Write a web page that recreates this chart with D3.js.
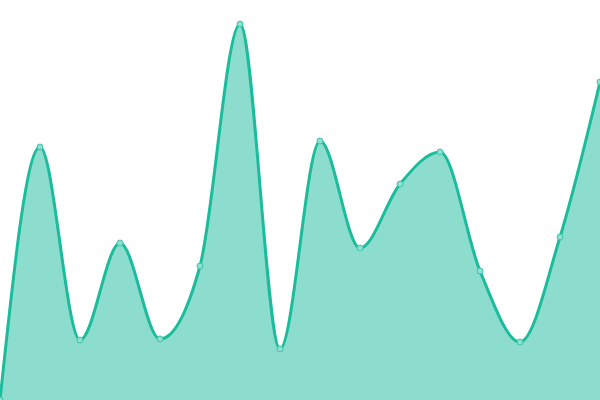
<!DOCTYPE html>
<html><head><meta charset="utf-8">
<script src="https://cdn.jsdelivr.net/npm/d3@7"></script>
<style>html,body{margin:0;padding:0;background:#fff;}svg{display:block;}</style>
</head><body>
<svg id="c" width="600" height="400"></svg>
<script>
const categories = d3.range(16);
const values = [0, 253, 60, 157, 61, 134, 376, 51, 259, 152, 216, 248, 129, 58, 163, 318];

const W = 600, H = 400;
const svg = d3.select("#c");
const x = d3.scaleLinear().domain([0, categories.length - 1]).range([0, W]);
const y = d3.scaleLinear().domain([0, 400]).range([H, 0]);
const data = categories.map((c, i) => ({c, v: values[i]}));

const color = "#1abc9c";
svg.append("path").datum(data)
  .attr("d", d3.area().x(d => x(d.c)).y0(H).y1(d => y(d.v)).curve(d3.curveMonotoneX))
  .attr("fill", color).attr("fill-opacity", 0.5);
svg.append("path").datum(data)
  .attr("d", d3.line().x(d => x(d.c)).y(d => y(d.v)).curve(d3.curveMonotoneX))
  .attr("fill", "none").attr("stroke", color).attr("stroke-width", 3);
svg.selectAll("circle").data(data).join("circle")
  .attr("cx", d => x(d.c)).attr("cy", d => y(d.v)).attr("r", 3)
  .attr("fill", "#8de0cf").attr("stroke", "#3cc5a8").attr("stroke-width", 1);
</script>
</body></html>
